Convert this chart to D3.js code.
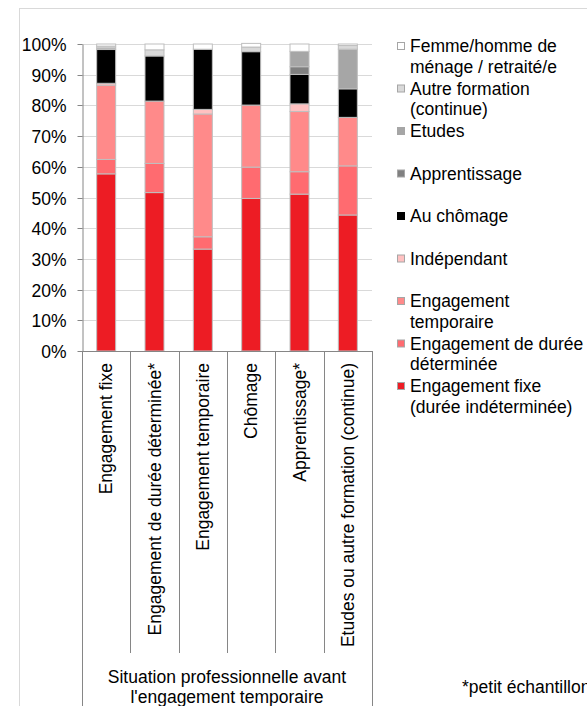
<!DOCTYPE html>
<html>
<head>
<meta charset="utf-8">
<script src="https://cdn.jsdelivr.net/npm/d3@7"></script>
<style>
  body { margin: 0; background: #fff; }
  text { font-family: "Liberation Sans", Arial, sans-serif; fill: #000; }
</style>
</head>
<body>
<div id="chart"></div>
<script>

// categories (x axis), bottom-to-top series and values in %
const categories = [
    "Engagement fixe",
    "Engagement de durée déterminée*",
    "Engagement temporaire",
    "Chômage",
    "Apprentissage*",
    "Etudes ou autre formation (continue)"
];

const seriesNames = [
    "Engagement fixe (durée indéterminée)",
    "Engagement de durée déterminée",
    "Engagement temporaire",
    "Indépendant",
    "Au chômage",
    "Apprentissage",
    "Etudes",
    "Autre formation (continue)",
    "Femme/homme de ménage / retraité/e"
];

const fixe        = [57.7, 51.6, 33.2, 49.7, 51.1, 44.3];
const dureeDet    = [4.7,  9.5,  4.0,  10.2, 7.3,  16.0];
const temporaire  = [24.2, 20.3, 40.0, 20.2, 19.6, 15.8];
const independant = [0.6,  0.0,  1.5,  0.0,  2.5,  0.0];
const chomage     = [11.0, 14.7, 19.6, 17.4, 9.6,  9.3];
const apprentiss  = [0.0,  0.0,  0.0,  0.0,  2.5,  0.0];
const etudes      = [0.5,  0.0,  0.0,  0.0,  5.0,  12.9];
const autreForm   = [0.6,  2.0,  0.0,  1.5,  0.0,  1.2];
const menage      = [0.7,  1.9,  1.7,  1.2,  2.4,  0.5];

const yTicks = [0, 10, 20, 30, 40, 50, 60, 70, 80, 90, 100];

// legend entries, top to bottom, with line breaks as in the original
const legendLines = [
    ["Femme/homme de", "ménage / retraité/e"],
    ["Autre formation", "(continue)"],
    ["Etudes"],
    ["Apprentissage"],
    ["Au chômage"],
    ["Indépendant"],
    ["Engagement", "temporaire"],
    ["Engagement de durée", "déterminée"],
    ["Engagement fixe", "(durée indéterminée)"]
];

const groupLabel = ["Situation professionnelle avant", "l'engagement temporaire"];
const footnote = "*petit échantillon";

const seriesValues = [fixe, dureeDet, temporaire, independant, chomage, apprentiss, etudes, autreForm, menage];

let width = 587;
let height = 706;
let fontSize = "17.5px";

let svg = d3.select("#chart")
    .append("svg")
    .attr("width", width)
    .attr("height", height);

// outer chart frame
svg.append("rect")
    .attr("x", 19.5)
    .attr("y", 8.5)
    .attr("width", 700)
    .attr("height", 800)
    .attr("fill", "none")
    .attr("stroke", "#d9d9d9");

const data = categories.map((c, i) => {
    let row = { cat: c };
    seriesNames.forEach((s, j) => row[s] = seriesValues[j][i]);
    return row;
});

const color = d3.scaleOrdinal()
    .domain(seriesNames)
    .range([
        "#ed1c24",   // fixe
        "#ff6b70",   // durée déterminée
        "#ff8a8a",   // temporaire
        "#ffc1c1",   // indépendant
        "#000000",   // chômage
        "#808080",   // apprentissage
        "#a6a6a6",   // études
        "#d9d9d9",   // autre formation
        "#ffffff"    // ménage
    ]);

let scaleX = d3.scaleBand()
    .domain(categories)
    .range([82, 372])
    .padding(0);

let scaleY = d3.scaleLinear()
    .domain([0, 100])
    .range([351, 44]);

// horizontal gridlines
svg.append("g")
    .selectAll("line.grid")
    .data(yTicks.slice(1))
    .join("line")
    .attr("class", "grid")
    .attr("x1", 82)
    .attr("x2", 372)
    .attr("y1", d => Math.round(scaleY(d)) + 0.5)
    .attr("y2", d => Math.round(scaleY(d)) + 0.5)
    .attr("stroke", "#d9d9d9")
    .attr("stroke-width", 1);

// y axis
let yAxis = svg.append("g")
    .attr("transform", "translate(82.5,0)")
    .call(d3.axisLeft(scaleY).tickValues(yTicks).tickSize(5).tickSizeOuter(0).tickFormat(d => d + "%"));
yAxis.select(".domain").attr("stroke", "#868686");
yAxis.selectAll(".tick line").attr("stroke", "#868686");
yAxis.selectAll(".tick").attr("transform", d => "translate(0," + (Math.round(scaleY(d)) + 0.5) + ")");
yAxis.selectAll(".tick text")
    .attr("x", -16)
    .attr("dy", "0.35em")
    .style("font-size", fontSize)
    .style("font-family", "'Liberation Sans', Arial, sans-serif")
    .attr("fill", "#000");

// stacked bars
let stackedData = d3.stack().keys(seriesNames)(data);
let barW = 19;

svg.append("g")
    .selectAll("g.series")
    .data(stackedData)
    .join("g")
    .attr("class", "series")
    .attr("fill", d => color(d.key))
    .selectAll("rect")
    .data(d => d.filter(p => p[1] - p[0] > 0))
    .join("rect")
    .attr("x", d => scaleX(d.data.cat) + (scaleX.bandwidth() - barW) / 2)
    .attr("width", barW)
    .attr("y", d => scaleY(d[1]))
    .attr("height", d => scaleY(d[0]) - scaleY(d[1]))
    .attr("stroke", "#bfbfbf")
    .attr("stroke-width", 1);

// bottom axis line and category separators
svg.append("line")
    .attr("x1", 82).attr("x2", 372)
    .attr("y1", 351.5).attr("y2", 351.5)
    .attr("stroke", "#868686");

const bounds = categories.map(c => scaleX(c)).concat([scaleX.range()[1]]);
svg.append("g")
    .selectAll("line.sep")
    .data(bounds)
    .join("line")
    .attr("class", "sep")
    .attr("x1", d => Math.round(d) + 0.5)
    .attr("x2", d => Math.round(d) + 0.5)
    .attr("y1", 351)
    .attr("y2", (d, i) => (i === 0 || i === bounds.length - 1) ? 706 : 653)
    .attr("stroke", "#868686");

// rotated category labels
svg.append("g")
    .selectAll("text.cat")
    .data(categories)
    .join("text")
    .attr("class", "cat")
    .attr("transform", d => "translate(" + (scaleX(d) + scaleX.bandwidth() / 2) + ",363) rotate(-90)")
    .attr("text-anchor", "end")
    .attr("dy", "0.35em")
    .style("font-size", fontSize)
    .text(d => d);

// group label
svg.append("g")
    .selectAll("text.group")
    .data(groupLabel)
    .join("text")
    .attr("class", "group")
    .attr("x", (scaleX.range()[0] + scaleX.range()[1]) / 2)
    .attr("y", (d, i) => 683 + i * 20)
    .attr("text-anchor", "middle")
    .style("font-size", fontSize)
    .text(d => d);

// footnote
svg.append("text")
    .attr("x", 462)
    .attr("y", 693)
    .style("font-size", fontSize)
    .text(footnote);

// legend
const legendNames = seriesNames.slice().reverse();
let legend = svg.append("g")
    .selectAll("g.legend")
    .data(legendNames)
    .join("g")
    .attr("class", "legend")
    .attr("transform", (d, i) => "translate(397," + (46 + i * 42.5) + ")");

legend.append("rect")
    .attr("x", 0.5)
    .attr("y", -3.5)
    .attr("width", 7)
    .attr("height", 7)
    .attr("fill", d => color(d))
    .attr("stroke", d => d === "Au chômage" ? "#000" : "#a6a6a6")
    .attr("stroke-width", 1);

legend.selectAll("text")
    .data((d, i) => legendLines[i])
    .join("text")
    .attr("x", 13)
    .attr("y", (d, i) => i * 20.5)
    .attr("dy", "0.35em")
    .style("font-size", fontSize)
    .text(d => d);

</script>
</body>
</html>
